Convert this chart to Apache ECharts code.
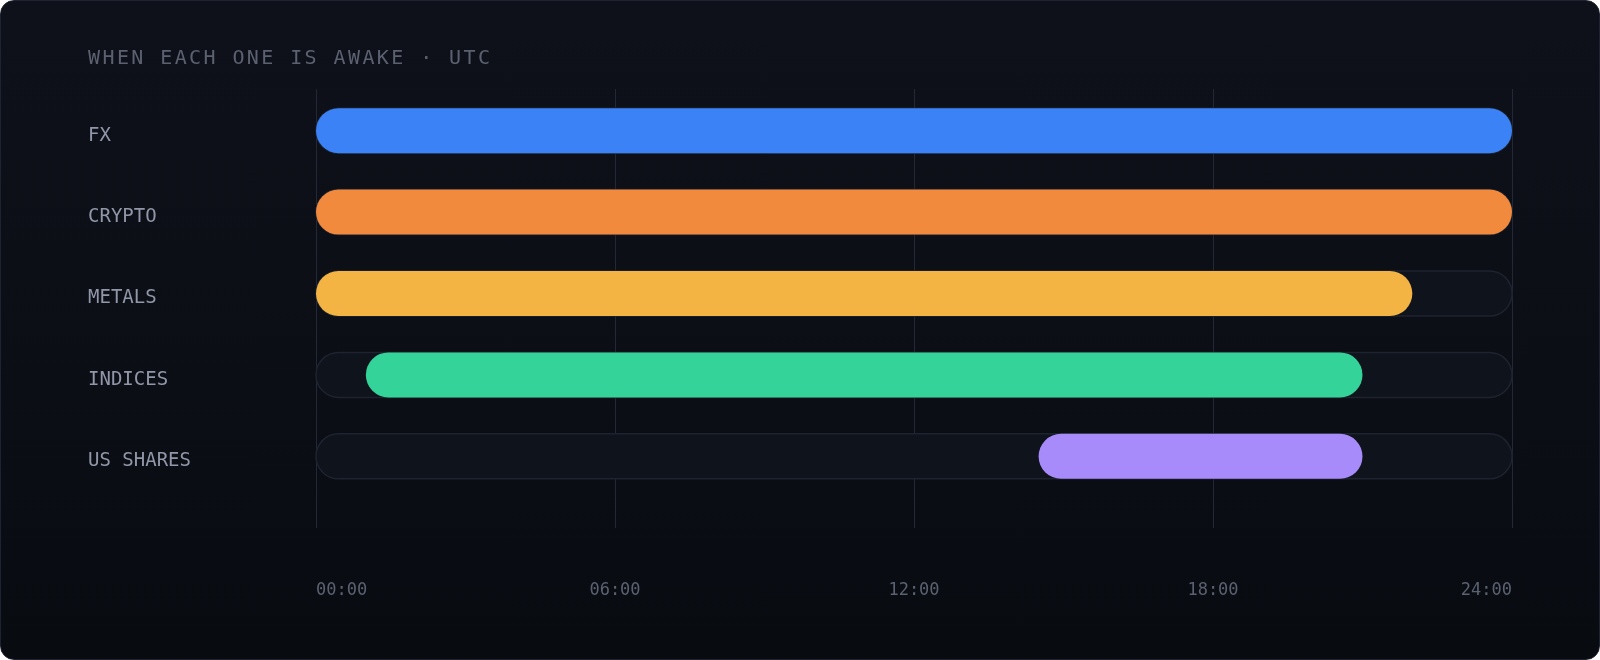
<!DOCTYPE html>
<html>
<head>
<meta charset="utf-8">
<script src="https://cdn.jsdelivr.net/npm/echarts@6/dist/echarts.min.js"></script>
<style>
  html, body { margin: 0; padding: 0; background: #ffffff; }
  .card {
    position: relative;
    width: 1600px; height: 660px;
    box-sizing: border-box;
    border: 1px solid #1f2331;
    border-radius: 14px;
    overflow: hidden;
    background: linear-gradient(180deg, #0e1119 0%, #0b0e15 60%, #080b10 100%);
  }
  .title {
    position: absolute; left: 87px; top: 46px;
    font-family: "DejaVu Sans Mono", monospace;
    font-size: 20px; line-height: 20px;
    letter-spacing: 2.4px;
    color: #5b6170;
    white-space: nowrap;
  }
  #chart { position: absolute; left: -1px; top: -1px; width: 1600px; height: 660px; }
</style>
</head>
<body>
<div class="card">
  <div id="chart"></div>
  <div class="title">WHEN EACH ONE IS AWAKE · UTC</div>
</div>
<script>
(function() {
  var myChart = echarts.init(document.getElementById("chart"), null, { renderer: "canvas" });

  // 数据
  var markets = ["FX", "CRYPTO", "METALS", "INDICES", "US SHARES"];
  var openHour = [0, 0, 0, 1, 14.5];
  var closeHour = [24, 24, 22, 21, 21];
  var barColors = ["#3b82f6", "#f28a3e", "#f4b443", "#34d399", "#a78bfa"];
  var tickLabels = ["00:00", "06:00", "12:00", "18:00", "24:00"];

  var mono = '"DejaVu Sans Mono", monospace';
  var barHeight = 45;

  function pill(params, api, x0, x1, style) {
    var a = api.coord([x0, api.value(0)]);
    var b = api.coord([x1, api.value(0)]);
    return {
      type: "rect",
      shape: { x: a[0], y: a[1] - barHeight / 2, width: b[0] - a[0], height: barHeight, r: barHeight / 2 },
      style: style
    };
  }

  var option = {
    backgroundColor: "transparent",
    animation: false,
    grid: [
      { left: 316, right: 88, top: 90, bottom: 163 },
      { left: 316, right: 88, top: 89, bottom: 132 }
    ],
    xAxis: [
      { gridIndex: 0, type: "value", min: 0, max: 24, show: false },
      {
        gridIndex: 1, type: "value", min: 0, max: 24, interval: 6,
        axisLine: { show: false },
        axisTick: { show: false },
        splitLine: { show: true, lineStyle: { color: "#232836", width: 1 } },
        axisLabel: {
          margin: 54,
          color: "#5b6170",
          fontFamily: mono,
          fontSize: 17,
          alignMinLabel: "left",
          alignMaxLabel: "right",
          formatter: function(v) { return tickLabels[Math.round(v / 6)]; }
        }
      }
    ],
    yAxis: [
      {
        gridIndex: 0, type: "category", data: markets, inverse: true,
        axisLine: { show: false },
        axisTick: { show: false },
        splitLine: { show: false },
        axisLabel: {
          align: "left",
          verticalAlign: "top",
          lineHeight: 10,
          margin: 228,
          color: "#9197a8",
          fontFamily: mono,
          fontSize: 19
        }
      },
      { gridIndex: 1, type: "value", show: false }
    ],
    series: [
      {
        name: "track",
        type: "custom",
        xAxisIndex: 0, yAxisIndex: 0,
        encode: { x: [1, 2], y: 0 },
        data: markets.map(function(m, i) { return [i, 0, 24]; }),
        renderItem: function(params, api) {
          return pill(params, api, api.value(1), api.value(2), {
            fill: "#0f131b", stroke: "#1e2330", lineWidth: 1.5
          });
        },
        z: 2
      },
      {
        name: "awake",
        type: "custom",
        xAxisIndex: 0, yAxisIndex: 0,
        encode: { x: [1, 2], y: 0 },
        data: markets.map(function(m, i) { return [i, openHour[i], closeHour[i]]; }),
        renderItem: function(params, api) {
          return pill(params, api, api.value(1), api.value(2), {
            fill: barColors[params.dataIndex]
          });
        },
        z: 3
      }
    ]
  };

  myChart.setOption(option);
  window.addEventListener("resize", function() {
    myChart.resize();
  });
})();
</script>
</body>
</html>
